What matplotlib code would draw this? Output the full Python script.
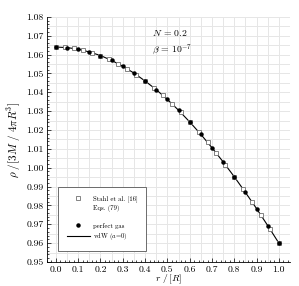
import matplotlib
matplotlib.use("Agg")
import matplotlib.pyplot as plt
from matplotlib.lines import Line2D
from matplotlib.ticker import MultipleLocator, FormatStrFormatter

plt.rcParams["font.family"] = "cmr10"
plt.rcParams["mathtext.fontset"] = "cm"
plt.rcParams["axes.unicode_minus"] = False
plt.rcParams["axes.formatter.use_mathtext"] = True

# Stahl et al. [16], Eqs. (79) -- open squares
r_stahl = [0.00, 0.04, 0.08, 0.12, 0.16, 0.20, 0.24, 0.28, 0.32, 0.36, 0.40, 0.44, 0.48,
           0.52, 0.56, 0.60, 0.64, 0.68, 0.72, 0.76, 0.80, 0.84, 0.88, 0.92, 0.96, 1.00]
rho_stahl = [1.0640, 1.0638, 1.0633, 1.0624, 1.0611, 1.0595, 1.0575, 1.0551, 1.0525,
             1.0494, 1.0460, 1.0423, 1.0383, 1.0340, 1.0293, 1.0243, 1.0190, 1.0135,
             1.0076, 1.0015, 0.9952, 0.9886, 0.9818, 0.9747, 0.9675, 0.9600]

# perfect gas -- filled dots
r_gas = [0.00, 0.05, 0.10, 0.15, 0.20, 0.25, 0.30, 0.35, 0.40, 0.45, 0.50,
         0.55, 0.60, 0.65, 0.70, 0.75, 0.80, 0.85, 0.90, 0.95, 1.00]
rho_gas = [1.0640, 1.0637, 1.0629, 1.0614, 1.0595, 1.0569, 1.0538, 1.0502, 1.0460,
           1.0414, 1.0362, 1.0305, 1.0243, 1.0177, 1.0106, 1.0031, 0.9952, 0.9869,
           0.9783, 0.9693, 0.9600]

# vdW (a=0) -- solid line
r_vdw = [0.00, 0.05, 0.10, 0.15, 0.20, 0.25, 0.30, 0.35, 0.40, 0.45, 0.50,
         0.55, 0.60, 0.65, 0.70, 0.75, 0.80, 0.85, 0.90, 0.95, 1.00]
rho_vdw = [1.0640, 1.0637, 1.0629, 1.0614, 1.0595, 1.0569, 1.0538, 1.0502, 1.0460,
           1.0414, 1.0362, 1.0305, 1.0243, 1.0177, 1.0106, 1.0031, 0.9952, 0.9869,
           0.9783, 0.9693, 0.9600]

fig = plt.figure(figsize=(2.99, 2.86), dpi=100)
ax = fig.add_axes([0.157, 0.084, 0.813, 0.857])

ln, = ax.plot(r_vdw, rho_vdw, color="black", lw=0.8, zorder=3)
sq, = ax.plot(r_stahl, rho_stahl, ls="none", marker="s", ms=3.0, mfc="white",
              mec="#707070", mew=0.6, zorder=4)
dot, = ax.plot(r_gas, rho_gas, ls="none", marker="o", ms=2.2, color="black", zorder=5)

ax.set_xlim(-0.04, 1.05)
ax.set_ylim(0.95, 1.08)
ax.xaxis.set_major_locator(MultipleLocator(0.1))
ax.xaxis.set_minor_locator(MultipleLocator(0.02))
ax.yaxis.set_major_locator(MultipleLocator(0.01))
ax.yaxis.set_minor_locator(MultipleLocator(0.002))
ax.xaxis.set_major_formatter(FormatStrFormatter("%.1f"))
ax.yaxis.set_major_formatter(FormatStrFormatter("%.2f"))

# light grid every 0.05 in r and 0.005 in rho
for gx in [i * 0.05 for i in range(0, 22)]:
    ax.axvline(gx, color="#e6e6e6", lw=0.7, zorder=0)
for gy in [0.95 + i * 0.005 for i in range(0, 27)]:
    ax.axhline(gy, color="#e6e6e6", lw=0.7, zorder=0)

ax.spines["top"].set_visible(False)
ax.spines["right"].set_visible(False)
for s in ("left", "bottom"):
    ax.spines[s].set_linewidth(0.6)
ax.tick_params(which="both", direction="in", labelsize=7, width=0.5, pad=2.5)
ax.tick_params(which="major", length=3)
ax.tick_params(which="minor", length=1.5)

ax.set_xlabel(r"$r\ /\,[R]$", fontsize=7, labelpad=-1)
ax.set_ylabel(r"$\rho\ /\left[3M\ /\ 4\pi R^3\right]$", fontsize=8, labelpad=2)

ax.text(0.43, 1.0715, r"$N$ = 0.2", fontsize=7, va="center")
ax.text(0.43, 1.0625, r"$\beta$ = 10$^{-7}$", fontsize=7, va="center")

blank = Line2D([], [], ls="none")
leg = ax.legend([sq, blank, blank, dot, ln],
                ["Stahl et al. [16]", "Eqs. (79)", " ", "perfect gas", r"vdW ($a$=0)"],
                loc="lower left", bbox_to_anchor=(0.047, 0.045), fontsize=4.8,
                fancybox=False, edgecolor="#555555", framealpha=1,
                handlelength=3.4, borderpad=1.3, labelspacing=0.38,
                handletextpad=0.5, borderaxespad=0)
leg.get_frame().set_linewidth(0.6)

fig.savefig("out.png", dpi=100)
